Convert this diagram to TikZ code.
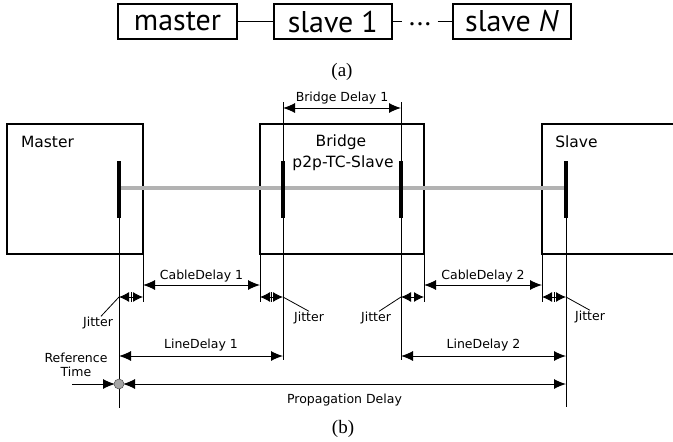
\documentclass[tikz,border=0pt]{standalone}
\usepackage{fontspec}
\setmainfont{Liberation Serif}
\setsansfont{DejaVu Sans}
\newfontfamily\ptsans{PT Sans}
\usetikzlibrary{arrows.meta,positioning}

\tikzset{
  unit/.style={draw, line width=1.8pt, minimum height=35pt, inner sep=0pt,
    font=\ptsans\fontsize{30}{32}\selectfont},
  link/.style={line width=1.6pt},
  devbox/.style={draw, line width=2.2pt, inner sep=0pt, outer sep=0pt, minimum height=130pt},
  devlbl/.style={font=\sffamily\fontsize{15.5}{17}\selectfont, anchor=base, inner sep=0pt},
  lbl/.style={font=\sffamily\fontsize{12.5}{14}\selectfont, anchor=base, inner sep=0pt},
  stamp/.style={line width=4.5pt},
  guide/.style={line width=0.8pt},
  dim/.style={<->, line width=1pt},
  jit/.style={{Latex[length=10pt,width=10pt]}-{Latex[length=10pt,width=10pt]}, line width=1pt},
  subfig/.style={font=\fontsize{19}{21}\selectfont, anchor=base, inner sep=0pt}
}

\begin{document}
\begin{tikzpicture}[>={Latex[length=12pt,width=10pt]}, x=1pt, y=-1pt]
\useasboundingbox (0,0) rectangle (673,442);

% (a) chain of clocks
\node[unit, minimum width=119pt] (master) at (177.5,21.5) {master};
\node[unit, minimum width=118pt, right=35pt of master] (slave1) {slave 1};
\node[unit, minimum width=118pt, right=59pt of slave1] (slaveN) {slave {\itshape N}};
\node[inner sep=0pt, minimum width=35pt, font=\ptsans\fontsize{28}{30}\selectfont] (dots) at (420,24) {...};
\draw[link] (master) -- (slave1);
\draw[link] (slave1.east) -- (slave1.east -| dots.west);
\draw[link] (slaveN.west -| dots.east) -- (slaveN.west);
\node[subfig] (figa) at (342,76) {(a)};

% (b) devices
\node[devbox, minimum width=136pt] (mbox) at (75,189) {};
\node[devbox, minimum width=164pt] (bbox) at (342,189) {};
\node[devbox, minimum width=150pt] (sbox) at (617,189) {};
\node[devlbl] at (47.5,147) {Master};
\node[devlbl] at (341,146) {Bridge};
\node[devlbl] at (343,167) {p2p-TC-Slave};
\node[devlbl] at (576.5,147) {Slave};

% time stamp points
\coordinate (tm) at (119,188);
\coordinate (tbi) at (283,188);
\coordinate (tbo) at (401,188);
\coordinate (ts) at (566,188);
\draw[stamp, black!30] (tm) -- (ts);
\foreach \t in {tm,tbi,tbo,ts}
  \draw[stamp] ([yshift=27pt]\t) -- ([yshift=-30pt]\t);

% guide lines
\draw[guide] (tm) -- (tm |- 0,408);
\draw[guide] (tbi |- 0,102) -- (tbi |- 0,360);
\draw[guide] (tbo |- 0,102) -- (tbo |- 0,360);
\draw[guide] (ts) -- (ts |- 0,407);
\draw[guide] (mbox.south east) -- ++(0,48);
\draw[guide] (bbox.south west) -- ++(0,48);
\draw[guide] (bbox.south east) -- ++(0,48);
\draw[guide] (sbox.south west) -- ++(0,48);

% delays
\draw[dim] (tbi |- 0,108) -- (tbo |- 0,108) node[lbl, midway, yshift=7pt] {Bridge Delay 1};
\draw[dim] (mbox.south east |- 0,285) -- (bbox.south west |- 0,285) node[lbl, midway, yshift=6pt] {CableDelay 1};
\draw[dim] (bbox.south east |- 0,285) -- (sbox.south west |- 0,285) node[lbl, midway, yshift=6pt] {CableDelay 2};
\draw[dim] (tm |- 0,356) -- (tbi |- 0,356) node[lbl, midway, yshift=8pt] {LineDelay 1};
\draw[dim] (tbo |- 0,356) -- (ts |- 0,356) node[lbl, midway, yshift=8pt] {LineDelay 2};

% jitter
\foreach \a/\b in {tm/mbox.south east, bbox.south west/tbi, tbo/bbox.south east, sbox.south west/ts}
  \draw[jit] (\a |- 0,297) -- (\b |- 0,297);
\foreach \x in {131,271.5,554}
  \draw[guide] (\x,292) -- (\x,302);
\node[lbl] (jit1) at (98,326) {Jitter};
\node[lbl] (jit2) at (309,321) {Jitter};
\node[lbl] (jit3) at (376,321) {Jitter};
\node[lbl] (jit4) at (590,320) {Jitter};
\draw[guide] (tm |- 0,297) -- ([xshift=3pt]jit1.north);
\draw[guide] (tbi |- 0,297) -- (jit2.north);
\draw[guide] (tbo |- 0,297) -- ([xshift=3pt]jit3.north);
\draw[guide] (ts |- 0,297) -- (jit4.north);

% reference time and propagation delay
\coordinate (ref) at (119,384);
\coordinate (reftail) at (72,384);
\node[lbl, anchor=center, align=center] (reftime) at (76,364.5) {Reference\\Time};
\draw[->, line width=1pt] (reftail) -- ([xshift=-4pt]ref);
\draw[dim] ([xshift=4pt]ref) -- (ts |- ref) node[lbl, midway, yshift=-19pt] {Propagation Delay};
\filldraw[fill=black!35, draw=black!70, line width=0.5pt] (ref) circle (5pt);

\node[subfig] (figb) at (343,433) {(b)};
\end{tikzpicture}
\end{document}
